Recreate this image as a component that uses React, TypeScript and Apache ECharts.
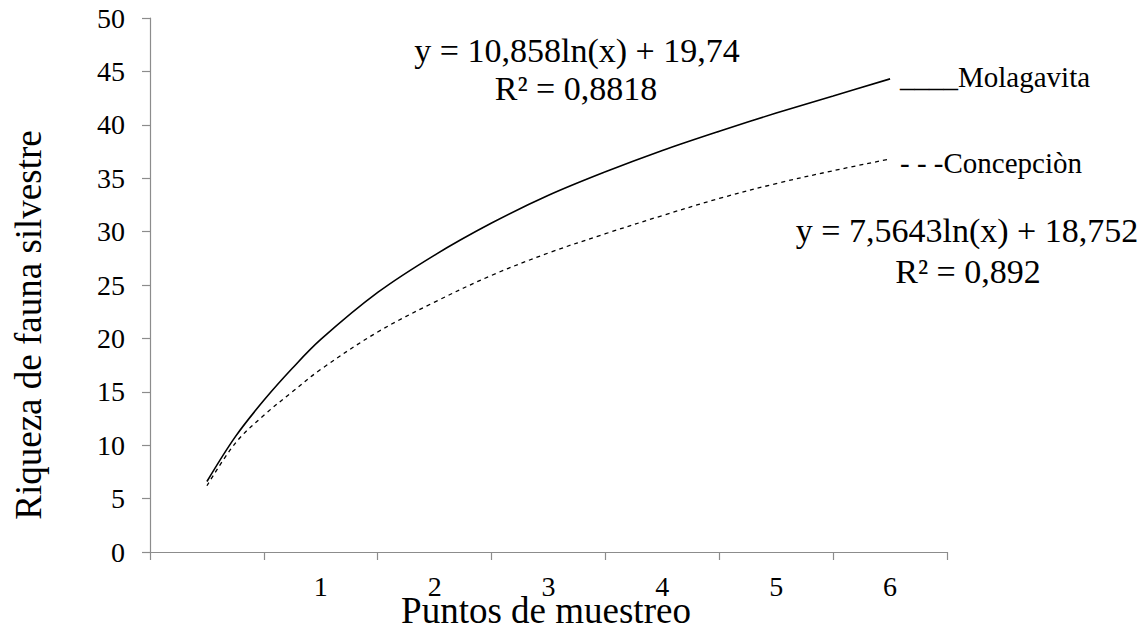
import React, { useEffect, useRef } from "react";
import * as echarts from "echarts";

const xCategories = ["", "1", "2", "3", "4", "5", "6"];
const xPoints = [0.5, 0.75, 1, 1.25, 1.5, 2, 2.5, 3, 3.5, 4, 4.5, 5, 5.5, 6, 6.5];
const molagavita = [6.6, 10.8, 14.2, 17.2, 19.9, 24.3, 27.8, 30.8, 33.4, 35.6, 37.6, 39.4, 41.1, 42.7, 44.3];
const concepcion = [6.2, 10.2, 12.8, 15.0, 17.1, 20.6, 23.4, 25.9, 28.0, 29.8, 31.5, 33.1, 34.5, 35.7, 36.8];

const FONT = "Liberation Serif";
const AXIS_COLOR = "#8c8c8c";

export default function App() {
  const ref = useRef<HTMLDivElement>(null);
  useEffect(() => {
    if (!ref.current) return;
    const chart = echarts.init(ref.current, null, { renderer: "svg" });
    const txt = (text: string, x: number, y: number, size: number, align = "center", rotation = 0) => ({
      type: "text",
      x,
      y,
      rotation,
      style: {
        text,
        fill: "#000",
        fontSize: size,
        fontFamily: FONT,
        textAlign: align,
        textVerticalAlign: "middle",
      },
    });
    chart.setOption({
      animation: false,
      backgroundColor: "#fff",
      textStyle: { fontFamily: FONT },
      grid: { left: 150, right: 201, top: 18, bottom: 76, containLabel: false },
      xAxis: [
        {
          type: "category",
          data: xCategories,
          boundaryGap: true,
          axisLine: { show: true, lineStyle: { color: AXIS_COLOR, width: 1.2 } },
          axisTick: { show: true, length: 8, lineStyle: { color: AXIS_COLOR, width: 1.2 } },
          axisLabel: { color: "#000", fontSize: 28, fontFamily: FONT, margin: 20 },
          splitLine: { show: false },
        },
        {
          type: "value",
          min: 0,
          max: 7,
          show: false,
        },
      ],
      yAxis: {
        type: "value",
        min: 0,
        max: 50,
        interval: 5,
        axisLine: { show: true, lineStyle: { color: AXIS_COLOR, width: 1.2 } },
        axisTick: { show: true, length: 8, lineStyle: { color: AXIS_COLOR, width: 1.2 } },
        axisLabel: { color: "#000", fontSize: 28, fontFamily: FONT, margin: 25 },
        splitLine: { show: false },
      },
      series: [
        {
          name: "Molagavita",
          type: "line",
          xAxisIndex: 1,
          smooth: 0.35,
          showSymbol: false,
          lineStyle: { color: "#000", width: 1.6, type: "solid" },
          data: xPoints.map((x, i) => [x, molagavita[i]]),
        },
        {
          name: "Concepciòn",
          type: "line",
          xAxisIndex: 1,
          smooth: 0.35,
          showSymbol: false,
          lineStyle: { color: "#000", width: 1.3, type: [4, 4] },
          data: xPoints.map((x, i) => [x, concepcion[i]]),
        },
      ],
      graphic: [
        txt("Riqueza de fauna silvestre", 28, 325, 37, "center", Math.PI / 2),
        txt("Puntos de muestreo", 546, 610, 37),
        txt("y = 10,858ln(x) + 19,74", 577, 50, 34),
        txt("R² = 0,8818", 576, 88, 34),
        txt("y = 7,5643ln(x) + 18,752", 967, 230, 34),
        txt("R² = 0,892", 968, 271, 34),
        txt("____Molagavita", 900, 77, 29, "left"),
        txt("- - -Concepciòn", 900, 163, 29, "left"),
      ],
    });
    return () => chart.dispose();
  }, []);
  return (
    <div
      ref={ref}
      style={{ position: "fixed", left: 0, top: 0, width: 1148, height: 628, background: "#fff" }}
    />
  );
}
